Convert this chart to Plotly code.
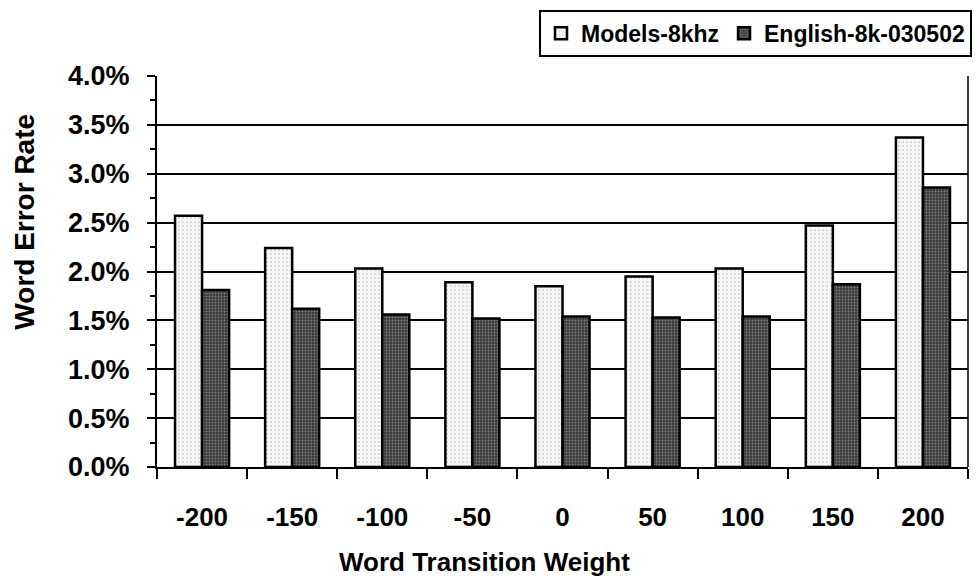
import plotly.graph_objects as go

weights = ["-200", "-150", "-100", "-50", "0", "50", "100", "150", "200"]
models_8khz = [2.57, 2.24, 2.03, 1.89, 1.85, 1.95, 2.03, 2.47, 3.37]
english_8k = [1.81, 1.62, 1.56, 1.52, 1.54, 1.53, 1.54, 1.87, 2.86]
y_ticks = [0, 0.5, 1.0, 1.5, 2.0, 2.5, 3.0, 3.5, 4.0]
y_ticktext = ["0.0%", "0.5%", "1.0%", "1.5%", "2.0%", "2.5%", "3.0%", "3.5%", "4.0%"]

FONT = "Arial, Liberation Sans, sans-serif"

fig = go.Figure()
fig.add_trace(go.Bar(x=weights, y=models_8khz, name="Models-8khz",
                     marker=dict(color="#efefef", line=dict(color="black", width=2.5),
                                 pattern=dict(shape=".", fgcolor="#8a8a8a", bgcolor="#f6f6f6",
                                              size=4, solidity=0.15))))
fig.add_trace(go.Bar(x=weights, y=english_8k, name="English-8k-030502",
                     marker=dict(color="#4a4a4a", line=dict(color="black", width=2.5),
                                 pattern=dict(shape=".", fgcolor="#c0c0c0", bgcolor="#3a3a3a",
                                              size=3, solidity=0.3))))

# page body has an 8px margin, so the figure is a bit smaller than the window
fig.update_layout(
    width=964, height=570,
    margin=dict(l=149, r=4, t=68, b=111, autoexpand=False),
    paper_bgcolor="white", plot_bgcolor="white",
    barmode="group", bargap=0.4, bargroupgap=0.0,
    font=dict(family=FONT, color="black", size=24, weight="bold"),
    legend=dict(orientation="h", xref="container", yref="container",
                x=1.0, xanchor="right", y=0.997, yanchor="top",
                bordercolor="black", borderwidth=2, bgcolor="white",
                font=dict(size=23, weight="bold"), itemwidth=30,
                traceorder="normal", tracegroupgap=0),
    shapes=[dict(type="line", xref="paper", yref="paper", x0=1, x1=1, y0=0, y1=1,
                 line=dict(color="black", width=1.5))],
    annotations=[
        dict(text="Word Error Rate", xref="paper", yref="paper", x=-0.163, y=0.627,
             xanchor="center", yanchor="middle",
             textangle=-90, showarrow=False, font=dict(size=28, weight="bold")),
        dict(text="Word Transition Weight", xref="paper", yref="paper", x=0.404, y=-0.243,
             xanchor="center", yanchor="middle", showarrow=False, font=dict(size=26, weight="bold")),
    ],
)

fig.update_yaxes(
    range=[0, 4.0], tickvals=y_ticks, ticktext=y_ticktext,
    showgrid=True, gridcolor="black", gridwidth=2,
    showline=True, linecolor="black", linewidth=2,
    ticks="outside", ticklen=8, tickwidth=2, tickcolor="black",
    minor=dict(dtick=0.25, ticks="outside", ticklen=5, tickwidth=1.5, tickcolor="black", showgrid=False),
    ticklabelstandoff=12,
    tickfont=dict(size=27, weight="bold"),
    zeroline=False,
)
fig.update_xaxes(
    showline=True, linecolor="black", linewidth=2,
    ticks="outside", tickson="boundaries", ticklen=10, tickwidth=2, tickcolor="black",
    ticklabelstandoff=26,
    tickfont=dict(size=26, weight="bold"),
)

fig.write_html("out.html")
